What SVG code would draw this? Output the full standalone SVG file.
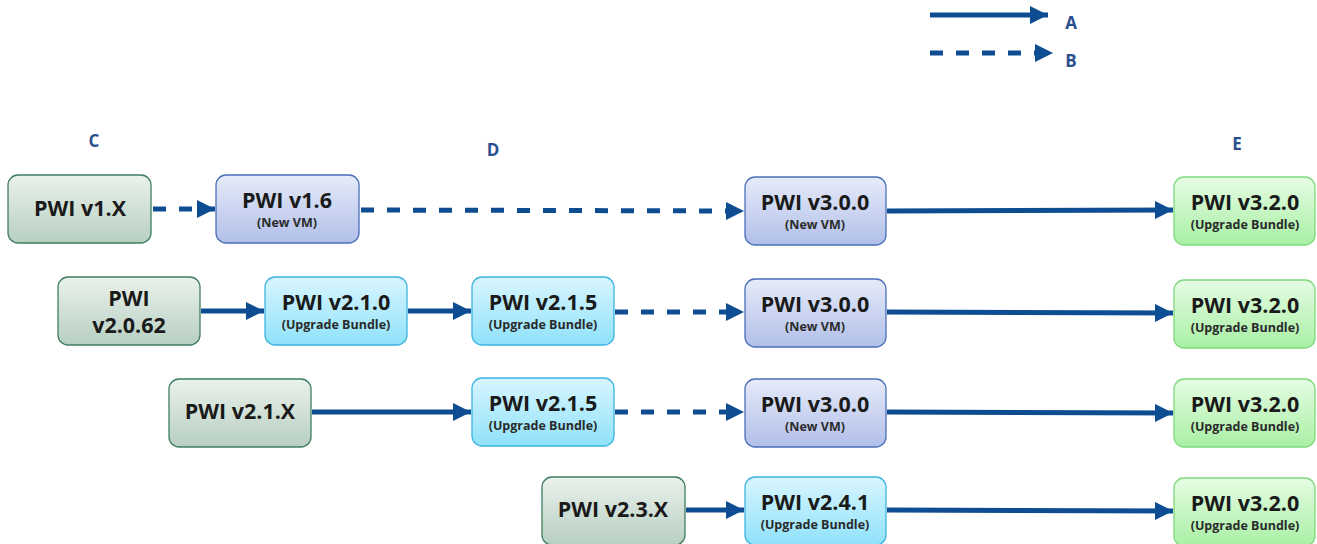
<svg xmlns="http://www.w3.org/2000/svg" width="1317" height="544" viewBox="0 0 1317 544">
<style>
.t{font-family:"Open Sans","Noto Sans","DejaVu Sans",sans-serif;font-weight:bold;fill:#1a1a1a;text-anchor:middle}
.m{font-size:21.5px}
.s{font-size:12.5px;fill:#2a2a2a}
.lbl{font-family:"Open Sans","Noto Sans",sans-serif;font-weight:bold;font-size:17px;fill:#2b4f8e;text-anchor:middle}
.c{stroke:#0e4d92;stroke-width:5;fill:none}
.d{stroke-dasharray:13 13}
</style>
<defs>
<linearGradient id="gG" x1="0" y1="0" x2="0" y2="1"><stop offset="0" stop-color="#eaf1ec"/><stop offset="1" stop-color="#b7cfc1"/></linearGradient>
<linearGradient id="gP" x1="0" y1="0" x2="0" y2="1"><stop offset="0" stop-color="#e6ebf9"/><stop offset="1" stop-color="#b1bfe9"/></linearGradient>
<linearGradient id="gC" x1="0" y1="0" x2="0" y2="1"><stop offset="0" stop-color="#d9f5ff"/><stop offset="1" stop-color="#8fe2fa"/></linearGradient>
<linearGradient id="gL" x1="0" y1="0" x2="0" y2="1"><stop offset="0" stop-color="#e6fce4"/><stop offset="1" stop-color="#a8f0a4"/></linearGradient>
<marker id="ah" markerUnits="userSpaceOnUse" markerWidth="20" markerHeight="18" refX="18" refY="9" orient="auto"><path d="M0,0 L18,9 L0,18 Z" fill="#0e4d92"/></marker>
<style>
.ng{fill:url(#gG);stroke:#3f7d60;stroke-width:1.3}
.np{fill:url(#gP);stroke:#4b6fb8;stroke-width:1.3}
.nc{fill:url(#gC);stroke:#3db4e0;stroke-width:1.3}
.nl{fill:url(#gL);stroke:#7fd97b;stroke-width:1.3}
</style>
</defs>

<g id="legend">
<line class="c" x1="930" y1="15" x2="1048" y2="15" stroke-width="6" marker-end="url(#ah)"/>
<line class="c d" x1="930" y1="53" x2="1053" y2="53" stroke-width="6" marker-end="url(#ah)" stroke-dasharray="18 20"/>
<text class="lbl" x="1071" y="29">A</text>
<text class="lbl" x="1071" y="67">B</text>
</g>
<g id="labels">
<text class="lbl" x="94" y="147">C</text>
<text class="lbl" x="493" y="156">D</text>
<text class="lbl" x="1237" y="150">E</text>
</g>

<g id="connectors">
<line class="c d" x1="153" y1="209" x2="215" y2="209" marker-end="url(#ah)"/>
<line class="c d" x1="361" y1="210" x2="744" y2="211" marker-end="url(#ah)"/>
<line class="c" x1="887" y1="211" x2="1173" y2="210" marker-end="url(#ah)"/>
<line class="c" x1="201" y1="311" x2="264" y2="311" marker-end="url(#ah)"/>
<line class="c" x1="408" y1="311" x2="471" y2="311" marker-end="url(#ah)"/>
<line class="c d" x1="615" y1="312" x2="744" y2="312" marker-end="url(#ah)"/>
<line class="c" x1="887" y1="312" x2="1173" y2="313" marker-end="url(#ah)"/>
<line class="c" x1="312" y1="412" x2="471" y2="412" marker-end="url(#ah)"/>
<line class="c d" x1="615" y1="412" x2="744" y2="412" marker-end="url(#ah)"/>
<line class="c" x1="887" y1="412" x2="1173" y2="413" marker-end="url(#ah)"/>
<line class="c" x1="686" y1="510" x2="744" y2="510" marker-end="url(#ah)"/>
<line class="c" x1="887" y1="510" x2="1173" y2="511" marker-end="url(#ah)"/>
</g>

<g id="n1"><rect class="ng" x="8" y="175" width="143" height="68" rx="10"/><text class="t m" x="80" y="216">PWI v1.X</text></g>
<g id="n2"><rect class="np" x="216" y="175" width="143" height="68" rx="10"/><text class="t m" x="287" y="208">PWI v1.6</text><text class="t s" x="287" y="227">(New VM)</text></g>
<g id="n3"><rect class="np" x="745" y="177" width="141" height="68" rx="10"/><text class="t m" x="815" y="210">PWI v3.0.0</text><text class="t s" x="815" y="229">(New VM)</text></g>
<g id="n4"><rect class="nl" x="1174" y="177" width="141" height="68" rx="10"/><text class="t m" x="1245" y="210">PWI v3.2.0</text><text class="t s" x="1245" y="229">(Upgrade Bundle)</text></g>

<g id="n5"><rect class="ng" x="58" y="277" width="142" height="68" rx="10"/><text class="t m" x="129" y="306">PWI</text><text class="t m" x="129" y="333">v2.0.62</text></g>
<g id="n6"><rect class="nc" x="265" y="277" width="142" height="68" rx="10"/><text class="t m" x="336" y="310">PWI v2.1.0</text><text class="t s" x="336" y="329">(Upgrade Bundle)</text></g>
<g id="n7"><rect class="nc" x="472" y="277" width="142" height="68" rx="10"/><text class="t m" x="543" y="310">PWI v2.1.5</text><text class="t s" x="543" y="329">(Upgrade Bundle)</text></g>
<g id="n8"><rect class="np" x="745" y="279" width="141" height="68" rx="10"/><text class="t m" x="815" y="312">PWI v3.0.0</text><text class="t s" x="815" y="331">(New VM)</text></g>
<g id="n9"><rect class="nl" x="1174" y="280" width="141" height="68" rx="10"/><text class="t m" x="1245" y="313">PWI v3.2.0</text><text class="t s" x="1245" y="332">(Upgrade Bundle)</text></g>

<g id="n10"><rect class="ng" x="169" y="379" width="142" height="68" rx="10"/><text class="t m" x="240" y="419">PWI v2.1.X</text></g>
<g id="n11"><rect class="nc" x="472" y="378" width="142" height="68" rx="10"/><text class="t m" x="543" y="411">PWI v2.1.5</text><text class="t s" x="543" y="430">(Upgrade Bundle)</text></g>
<g id="n12"><rect class="np" x="745" y="379" width="141" height="68" rx="10"/><text class="t m" x="815" y="412">PWI v3.0.0</text><text class="t s" x="815" y="431">(New VM)</text></g>
<g id="n13"><rect class="nl" x="1174" y="379" width="141" height="68" rx="10"/><text class="t m" x="1245" y="412">PWI v3.2.0</text><text class="t s" x="1245" y="431">(Upgrade Bundle)</text></g>

<g id="n14"><rect class="ng" x="542" y="477" width="143" height="68" rx="10"/><text class="t m" x="613" y="517">PWI v2.3.X</text></g>
<g id="n15"><rect class="nc" x="745" y="477" width="141" height="68" rx="10"/><text class="t m" x="815" y="510">PWI v2.4.1</text><text class="t s" x="815" y="529">(Upgrade Bundle)</text></g>
<g id="n16"><rect class="nl" x="1174" y="478" width="141" height="68" rx="10"/><text class="t m" x="1245" y="511">PWI v3.2.0</text><text class="t s" x="1245" y="530">(Upgrade Bundle)</text></g>
</svg>
